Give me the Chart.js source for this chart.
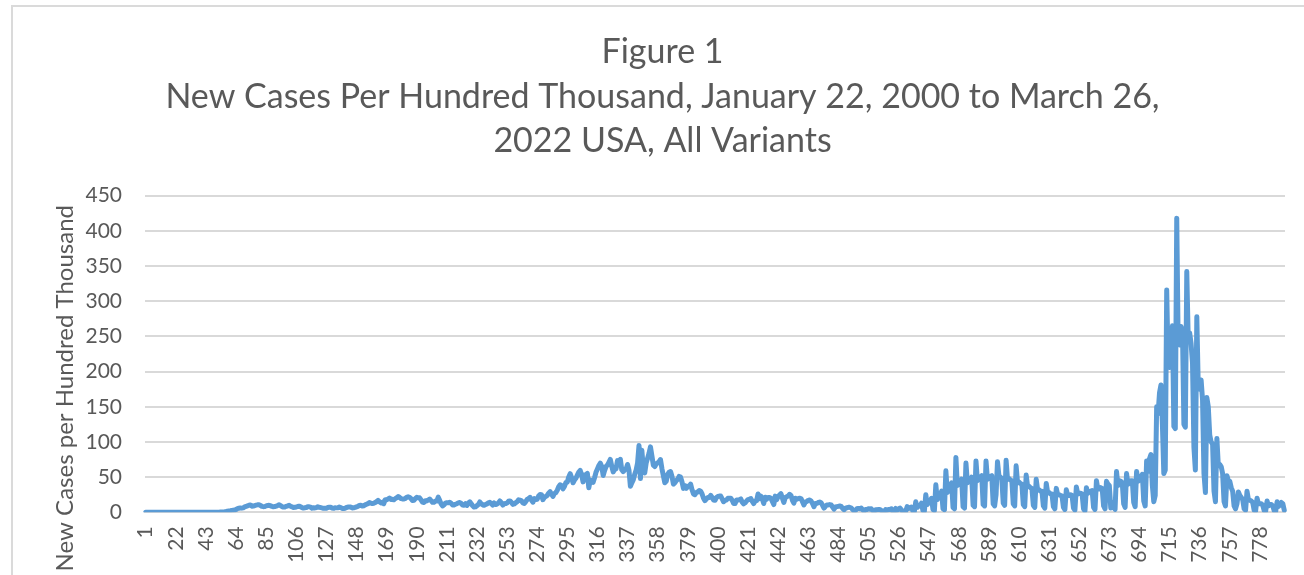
<!DOCTYPE html>
<html>
<head>
<meta charset="utf-8">
<script src="https://cdn.jsdelivr.net/npm/chart.js@4.4.1/dist/chart.umd.min.js"></script>
<style>
  html, body { margin: 0; padding: 0; background: #ffffff; overflow: hidden; width: 1304px; height: 575px; }
  #frame { position: absolute; left: 11px; top: 5px; width: 1400px; height: 700px; border: 2px solid #dadada; box-sizing: border-box; z-index: 2; pointer-events: none; }
  #c { position: absolute; left: 0; top: 0; z-index: 1; }
</style>
</head>
<body>
<canvas id="c" width="1304" height="640"></canvas>
<div id="frame"></div>
<script>
// Daily new cases per hundred thousand.
// Rows are weeks (Wed..Tue) where possible.
const cases2020 = [
  0,0,0,0,0,0,0,
  0,0,0,0,0,0,0,
  0,0,0,0,0,0,0,
  0,0,0,0,0,0,0,
  0,0,0,0,0,0,0,
  0,0,0,0,0,0,0,
  0.01,0.02,0.02,0.03,0.04,0.06,0.09,
  0.13,0.15,0.22,0.3,0.4,0.6,0.85,
  1.2,1.6,2.0,2.3,2.7,3.0,3.2,
  4.0,5.2,5.8,6.2,5.9,6.3,7.6,
  8.3,9.2,10.0,10.4,8.7,8.9,9.6,
  10.2,10.6,10.8,9.8,8.4,8.0,8.1,
  9.2,9.7,9.9,9.3,8.4,7.9,8.1,
  8.7,9.6,10.6,9.7,8.1,7.4,7.6,
  8.5,9.2,10.0,8.6,7.8,6.9,7.1,
  7.6,8.2,8.7,7.9,6.7,6.0,6.6,
  6.8,8.0,7.8,7.3,5.8,6.5,6.1,
  6.8,7.8,7.0,6.7,6.2,5.8,5.6,
  5.8,6.8,7.2,7.2,6.0,5.6,6.5,
  6.3,6.5,7.5,6.8,5.5,5.4,5.8,
  6.8,7.4,7.6,7.5,6.2,6.4,7.0,
  7.8,8.5,9.6,10.0,8.9,9.3,10.5,
  11.4,12.3,13.8,13.0,12.4,12.8,13.8,
  15.2,16.9,15.0,13.4,14.3,12.3,18.0,
  17.9,18.8,20.2,18.3,18.5,17.8,19.5,
  20.6,22.3,21.3,19.5,19.0,18.8,19.7,
  21.3,22.1,21.4,19.5,16.7,17.1,19.5,
  21.3,20.5,20.6,17.6,14.5,14.0,16.5,
  16.2,17.5,18.8,16.6,14.3,14.3,15.9,
  16.0,21.5,17.0,12.0,9.0,10.6,13.1,
  13.7,13.4,14.4,12.9,10.4,10.5,11.4,
  12.2,13.4,13.9,12.6,10.4,10.0,12.2,
  9.7,13.0,14.9,12.2,9.3,7.4,7.7,
  9.5,11.0,14.7,12.2,10.4,10.0,11.1,
  12.0,13.4,14.2,12.5,10.2,13.2,11.1,
  11.7,13.2,16.1,13.8,10.2,12.1,12.4,
  13.2,15.7,16.2,14.2,11.3,11.9,13.5,
  15.1,17.7,17.1,16.5,13.4,12.6,15.2,
  18.2,19.4,21.3,17.4,14.3,19.6,18.2,
  18.6,23.1,25.2,25.0,17.9,21.2,22.5,
  24.0,27.2,29.4,25.7,22.6,26.7,28.0,
  31.4,36.3,39.1,38.2,33.3,36.8,42.1,
  42.9,50.3,54.9,49.2,41.9,45.8,48.4,
  52.8,57.2,59.5,53.2,43.2,53.1,53.5,
  55.3,34.9,46.0,45.0,42.6,49.1,56.8,
  61.6,66.4,69.8,65.5,52.4,59.3,65.0,
  67.1,71.1,75.2,65.3,57.5,60.8,61.9,
  73.4,72.7,75.3,60.4,57.8,60.5,61.5,
  68.0,60.0,37.0,42.0,46.0,54.0,60.0,
  70.0,95.0
];
const cases2021 = [
  48.0,88.0,62.0,56.0,70.0,
  77.0,84.0,93.0,80.0,67.0,65.0,69.0,
  70.0,72.0,75.0,62.0,52.0,42.0,44.0,
  54.0,57.0,58.0,51.0,40.0,42.0,45.0,
  47.0,51.0,50.0,43.0,34.0,38.0,34.0,
  37.0,37.0,40.0,32.0,26.0,25.0,28.0,
  29.0,31.0,30.0,26.0,20.0,16.5,19.0,
  21.0,21.0,24.0,21.0,17.5,17.0,21.0,
  22.5,23.0,23.0,19.0,15.0,17.0,17.5,
  20.0,20.0,20.0,17.0,12.5,12.5,17.5,
  17.5,18.0,19.0,14.5,12.0,13.5,16.0,
  18.0,18.5,19.5,15.5,12.5,16.0,16.5,
  26.0,19.5,23.0,19.0,12.5,21.5,18.5,
  21.0,21.0,20.0,15.5,11.0,23.0,18.0,
  22.5,24.5,26.5,20.0,14.0,21.0,22.0,
  23.0,25.5,24.0,17.0,13.0,20.0,18.5,
  19.5,20.0,19.5,15.0,10.5,14.5,15.5,
  17.0,17.5,16.0,12.5,8.0,12.5,12.5,
  14.0,14.5,13.5,10.0,6.0,8.5,10.5,
  10.5,11.0,10.5,7.5,4.5,7.5,8.0,
  8.5,9.0,8.5,5.5,3.5,6.0,6.5,
  7.0,7.0,6.0,4.0,2.0,2.5,5.0,
  5.5,5.0,6.0,3.5,1.5,4.0,4.0,
  5.0,4.5,5.0,2.5,1.0,3.5,3.5,
  4.0,4.0,2.5,1.5,0.8,4.0,3.0,
  4.0,4.0,5.0,1.5,0.8,5.5,3.0,
  4.5,6.0,3.5,1.0,0.5,1.5,8.0,
  5.5,6.5,7.5,2.0,1.0,15.0,7.0,
  9.0,9.0,13.0,2.5,1.5,25.0,11.0,
  14.0,14.5,20.0,4.0,2.5,39.0,18.0,
  22.0,24.0,30.0,5.0,3.5,59.0,28.0,
  33.0,36.0,42.0,7.0,5.0,78.0,38.0,
  40.0,43.0,47.0,8.0,6.0,70.0,42.0,
  45.0,46.0,50.0,10.0,8.0,73.0,45.0,
  48.0,50.0,52.0,11.0,9.0,73.0,47.0,
  50.0,51.0,52.0,12.0,9.0,25.0,72.0,
  52.0,50.0,48.0,13.0,10.0,74.0,47.0,
  48.0,46.0,45.0,12.0,9.0,66.0,42.0,
  43.0,41.0,40.0,11.0,8.0,53.0,37.0,
  37.0,35.0,34.0,10.0,7.0,47.0,32.0,
  32.0,30.0,30.0,9.0,6.0,41.0,28.0,
  28.0,26.0,26.0,8.0,5.0,34.0,25.0,
  25.0,24.0,23.0,7.0,4.0,32.0,24.0,
  24.0,25.0,24.0,6.0,3.0,36.0,26.0,
  27.0,27.0,26.0,5.0,2.0,35.0,27.0,
  29.0,30.0,31.0,7.0,4.0,45.0,33.0,
  33.0,35.0,34.0,9.0,5.0,44.0,40.0,
  38.0,6.0,14.0,8.0,4.0,58.0,38.0,
  45.0,44.0,42.0,12.0,7.0,55.0,40.0,
  42.0,45.0,45.0,14.0,8.0,58.0,44.0,
  46.0,50.0,54.0,16.0,9.0,73.0,58.0,
  76.0,82.0,38.0,15.0,24.0,150.0,140.0,
  170.0,181.0,125.0
];
const cases2022 = [
  55.0,60.0,
  316.0,212.0,
  206.0,230.0,265.0,122.0,119.0,418.0,240.0,
  238.0,264.0,258.0,125.0,121.0,342.0,248.0,
  255.0,240.0,212.0,92.0,60.0,278.0,180.0,
  175.0,188.0,160.0,55.0,28.0,163.0,150.0,
  110.0,100.0,97.0,30.0,15.0,105.0,66.0,
  68.0,65.0,55.0,15.0,9.0,52.0,45.0,
  44.0,35.0,30.0,9.0,5.0,12.0,29.0,
  24.0,21.0,18.0,5.0,3.0,30.0,18.0,
  17.0,16.0,14.0,3.0,2.0,20.0,12.0,
  12.0,12.0,10.0,2.5,1.5,16.0,9.0,
  11.0,11.0,9.0,2.0,1.3,15.0,8.5,
  11.0,14.0,12.0,3.0
];
const newCases = cases2020.concat(cases2021, cases2022);
const dayNumbers = Array.from({ length: newCases.length }, (_, k) => String(k + 1));
const tickLabels = [1,22,43,64,85,106,127,148,169,190,211,232,253,274,295,316,337,358,379,400,
  421,442,463,484,505,526,547,568,589,610,631,652,673,694,715,736,757,778];
const yTicks = [0,50,100,150,200,250,300,350,400,450];

const chartTitle = ['Figure 1', 'New Cases Per Hundred Thousand, January 22, 2000 to March 26,', '2022 USA, All Variants'];
const yAxisTitle = 'New Cases per Hundred Thousand';

const FONT = 'Lato';
const GREY = '#595959';

const yTitlePlugin = {
  id: 'yTitle',
  afterDraw(chart) {
    const ctx = chart.ctx;
    ctx.save();
    ctx.font = '24px ' + FONT;
    ctx.fillStyle = GREY;
    ctx.translate(65, 205);
    ctx.rotate(-Math.PI / 2);
    ctx.textAlign = 'right';
    ctx.textBaseline = 'middle';
    ctx.fillText(yAxisTitle, 0, 0);
    ctx.restore();
  }
};

new Chart(document.getElementById('c'), {
  type: 'line',
  data: {
    labels: dayNumbers,
    datasets: [{
      data: newCases,
      borderColor: '#5b9bd5',
      borderWidth: 5,
      pointRadius: 0,
      pointHoverRadius: 0,
      tension: 0,
      borderJoinStyle: 'round',
      borderCapStyle: 'round',
      fill: false
    }]
  },
  options: {
    responsive: false,
    animation: false,
    devicePixelRatio: 1,
    layout: { padding: { left: 40, right: 19, top: 0, bottom: 0 } },
    plugins: {
      legend: { display: false },
      tooltip: { enabled: false },
      title: {
        display: true,
        text: chartTitle,
        color: GREY,
        font: { family: FONT, size: 34, weight: 'normal', lineHeight: 1.31 },
        padding: { top: 30, bottom: 32 }
      }
    },
    scales: {
      x: {
        type: 'category',
        offset: true,
        grid: { display: false, drawTicks: false },
        border: { display: true, color: '#d9d9d9', width: 2 },
        afterBuildTicks(axis) {
          axis.ticks = axis.ticks.filter(t => tickLabels.includes(t.value + 1));
        },
        afterFit(scale) { scale.height = 640 - 512.3; },
        ticks: {
          autoSkip: false,
          minRotation: 90,
          maxRotation: 90,
          padding: 14,
          color: GREY,
          font: { family: FONT, size: 21 }
        }
      },
      y: {
        min: 0,
        max: 450,
        afterBuildTicks(axis) { axis.ticks = yTicks.map(v => ({ value: v })); },
        afterFit(scale) { scale.width = 145 - 40; },
        grid: { color: '#d9d9d9', lineWidth: 2, drawTicks: false },
        border: { display: false },
        ticks: {
          padding: 23,
          color: GREY,
          font: { family: FONT, size: 21 }
        }
      }
    }
  },
  plugins: [yTitlePlugin]
});
</script>
</body>
</html>
